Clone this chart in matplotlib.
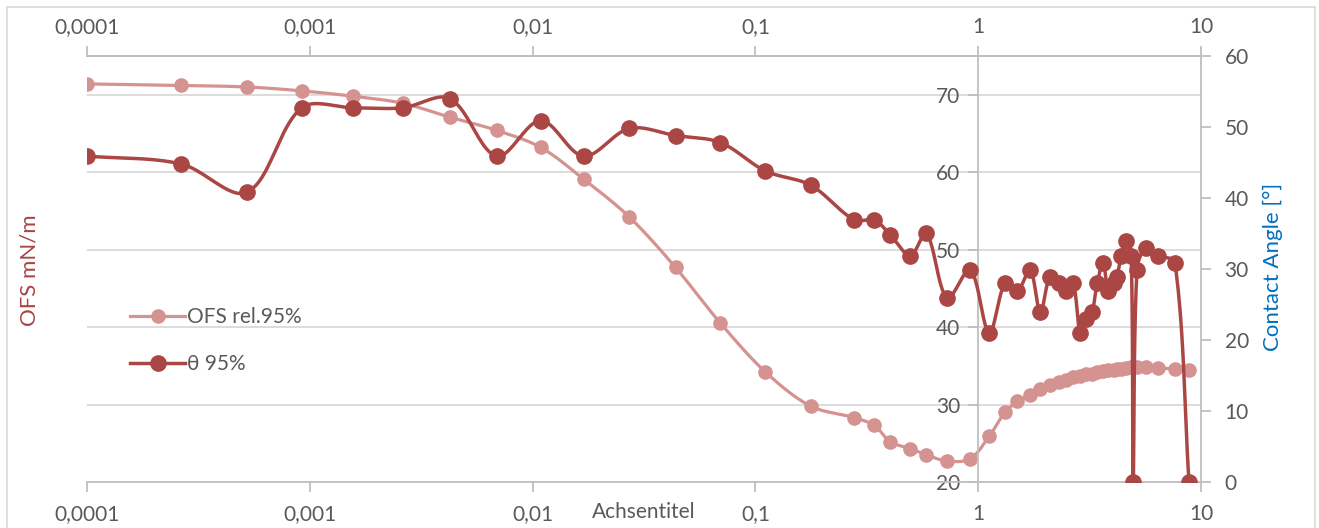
import numpy as np
import matplotlib.pyplot as plt
from matplotlib.lines import Line2D
from matplotlib.patches import Rectangle
from matplotlib.ticker import FixedLocator, FixedFormatter, NullLocator

plt.rcParams['font.family'] = ['Lato', 'DejaVu Sans']

# concentration (log axis), shared by both series
conc = [0.0001, 0.000264, 0.000522, 0.00092, 0.00157, 0.00261, 0.00425, 0.0069,
        0.01087, 0.01695, 0.0272, 0.0438, 0.0697, 0.111, 0.177, 0.278, 0.342,
        0.403, 0.496, 0.585, 0.726, 0.92, 1.12, 1.32, 1.5, 1.71, 1.9, 2.1, 2.31,
        2.48, 2.67, 2.87, 3.05, 3.24, 3.42, 3.64, 3.83, 4.07, 4.2, 4.38, 4.61,
        4.86, 4.96, 5.16, 5.66, 6.41, 7.64, 8.83]

# surface tension, mN/m (left axis)
ofs_rel95 = [71.4, 71.2, 71.0, 70.5, 69.8, 68.9, 67.1, 65.4,
             63.2, 59.1, 54.2, 47.7, 40.5, 34.2, 29.8, 28.3, 27.3,
             25.2, 24.3, 23.5, 22.7, 23.0, 25.9, 29.0, 30.4, 31.2, 32.0, 32.5, 32.9,
             33.2, 33.5, 33.7, 33.9, 34.0, 34.2, 34.3, 34.4, 34.5, 34.6, 34.6, 34.7,
             34.8, 34.8, 34.8, 34.8, 34.7, 34.6, 34.4]

# contact angle, degrees (right axis)
theta95 = [45.9, 44.8, 40.8, 52.7, 52.7, 52.7, 54.0, 45.9,
           50.9, 45.9, 49.8, 48.8, 47.8, 43.8, 41.8, 36.9, 36.9,
           34.8, 31.9, 35.0, 25.9, 29.9, 21.0, 28.0, 26.9, 29.9, 23.9, 28.9, 28.0,
           26.9, 28.0, 21.0, 22.9, 23.9, 28.0, 30.9, 26.9, 28.0, 28.9, 31.9, 33.9,
           31.9, 0.0, 29.9, 33.0, 31.9, 30.9, 0.0]

decade_ticks = [0.0001, 0.001, 0.01, 0.1, 1, 10]
decade_labels = ['0,0001', '0,001', '0,01', '0,1', '1', '10']
ofs_ticks = [20, 30, 40, 50, 60, 70]
angle_ticks = [0, 10, 20, 30, 40, 50, 60]

OFS_COLOR = '#D49391'
THETA_COLOR = '#AA4643'
TEXT_COLOR = '#595959'
AXIS_COLOR = '#BFBFBF'
GRID_COLOR = '#D9D9D9'

PX_PER_DECADE = 223.0


def smooth_line(x, y, px_per_unit, steps=24):
    # bezier through every point; handle lengths follow the neighbouring
    # segment lengths (in pixels) so short steps next to long drops don't overshoot
    pts = np.column_stack([np.log10(x) * PX_PER_DECADE,
                           np.asarray(y, float) * px_per_unit])
    n = len(pts)
    seg_len = np.hypot(*np.diff(pts, axis=0).T)
    t = np.linspace(0, 1, steps)[1:, None]
    out = [pts[0]]
    for i in range(n - 1):
        p1, p2 = pts[i], pts[i + 1]
        if i > 0:
            d = pts[i + 1] - pts[i - 1]
            w = seg_len[i] / (seg_len[i - 1] + seg_len[i])
            c1 = p1 + d * w / 3
        else:
            c1 = p1 + (p2 - p1) / 3
        if i + 2 < n:
            d = pts[i + 2] - pts[i]
            w = seg_len[i] / (seg_len[i] + seg_len[i + 1])
            c2 = p2 - d * w / 3
        else:
            c2 = p2 - (p2 - p1) / 3
        seg = ((1 - t) ** 3 * p1 + 3 * (1 - t) ** 2 * t * c1
               + 3 * (1 - t) * t ** 2 * c2 + t ** 3 * p2)
        out.extend(seg)
    out = np.array(out)
    return 10 ** (out[:, 0] / PX_PER_DECADE), out[:, 1] / px_per_unit


fig = plt.figure(figsize=(13.19, 5.28), dpi=100)
fig.patches.append(Rectangle((7 / 1319, -0.02), 1308 / 1319, 1.02 - 7 / 528,
                             transform=fig.transFigure, fill=False,
                             edgecolor=GRID_COLOR, lw=1.2))

ax = fig.add_axes([87 / 1319, 46 / 528, 1114 / 1319, 426 / 528])
ax.set_xscale('log')
ax.set_xlim(1e-4, 10)
ax.set_ylim(20, 75)

sx, sy = smooth_line(conc, ofs_rel95, 426 / 55)
ax.plot(sx, sy, color=OFS_COLOR, lw=2.3, solid_capstyle='round')
ax.plot(conc, ofs_rel95, 'o', ms=9.5, color=OFS_COLOR)

ax.xaxis.set_major_locator(FixedLocator(decade_ticks))
ax.xaxis.set_major_formatter(FixedFormatter(decade_labels))
ax.xaxis.set_minor_locator(NullLocator())
ax.yaxis.set_major_locator(FixedLocator(ofs_ticks))
ax.yaxis.set_minor_locator(NullLocator())

ax.yaxis.grid(True, color=GRID_COLOR, lw=1.3)
ax.set_axisbelow(True)

ax.spines['left'].set_position(('data', 1))
for name in ['left', 'top', 'bottom']:
    ax.spines[name].set_color(AXIS_COLOR)
    ax.spines[name].set_linewidth(1.3)
ax.spines['right'].set_visible(False)

ax.tick_params(axis='x', which='major', direction='out', length=7, width=1.3,
               color=AXIS_COLOR, labelcolor=TEXT_COLOR, labelsize=15, pad=9)
ax.tick_params(axis='y', direction='out', length=7, width=1.3,
               color=AXIS_COLOR, labelcolor=TEXT_COLOR, labelsize=15, pad=6)

# second category axis along the top
top = ax.secondary_xaxis('top')
top.xaxis.set_major_locator(FixedLocator(decade_ticks))
top.xaxis.set_major_formatter(FixedFormatter(decade_labels))
top.xaxis.set_minor_locator(NullLocator())
top.spines['top'].set_color(AXIS_COLOR)
top.spines['top'].set_linewidth(1.3)
top.tick_params(axis='x', which='major', direction='out', length=7, width=1.3,
                color=AXIS_COLOR, labelcolor=TEXT_COLOR, labelsize=15, pad=6.5)

ax2 = ax.twinx()
ax2.set_ylim(0, 60)
tx, ty = smooth_line(conc, theta95, 426 / 60)
ax2.plot(tx, ty, color=THETA_COLOR, lw=2.5, solid_capstyle='round')
ax2.plot(conc, theta95, 'o', ms=11, color=THETA_COLOR)
ax2.yaxis.set_major_locator(FixedLocator(angle_ticks))
ax2.yaxis.set_minor_locator(NullLocator())
ax2.xaxis.set_minor_locator(NullLocator())
for name in ['left', 'top', 'bottom']:
    ax2.spines[name].set_visible(False)
ax2.spines['right'].set_color(AXIS_COLOR)
ax2.spines['right'].set_linewidth(1.3)
ax2.tick_params(axis='y', direction='out', length=7, width=1.3,
                color=AXIS_COLOR, labelcolor=TEXT_COLOR, labelsize=15, pad=10)

handles = [
    Line2D([], [], color=OFS_COLOR, lw=2.3, marker='o', ms=9.5),
    Line2D([], [], color=THETA_COLOR, lw=2.5, marker='o', ms=11),
]
ax2.legend(handles, ['OFS rel.95%', 'θ 95%'], loc='upper left',
           bbox_to_anchor=(120 / 1319, 1 - 297 / 528),
           bbox_transform=fig.transFigure, frameon=False, borderpad=0,
           handlelength=2.6, handletextpad=0.1, labelspacing=1.3,
           fontsize=15, labelcolor=TEXT_COLOR)

fig.text(30 / 1319, 1 - 270 / 528, 'OFS mN/m', rotation=90, color='#A94442',
         fontsize=16, ha='center', va='center')
fig.text(1273 / 1319, 1 - 267 / 528, 'Contact Angle [°]', rotation=90,
         color='#0070C0', fontsize=16, ha='center', va='center')
fig.text(644 / 1319, 1 - 512 / 528, 'Achsentitel', color=TEXT_COLOR,
         fontsize=15, ha='center', va='center')

fig.savefig('out.png', dpi=100)
